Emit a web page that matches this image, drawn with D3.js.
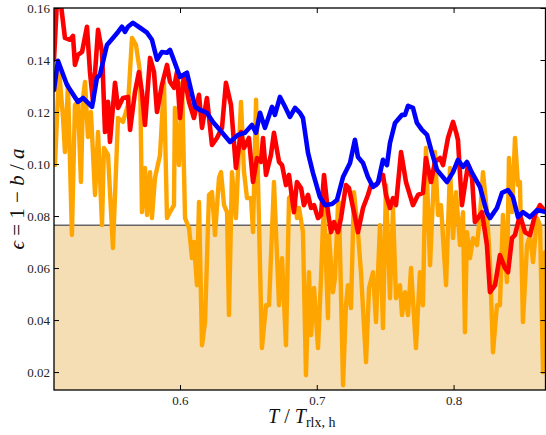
<!DOCTYPE html>
<html>
<head>
<meta charset="utf-8">
<script src="https://cdn.jsdelivr.net/npm/d3@7"></script>
<style>
  body { margin: 0; background: #fff; }
  svg text { font-family: "Liberation Serif", "Times New Roman", serif; }
</style>
</head>
<body>
<svg id="chart"></svg>
<script>
// values
const xTicks = [0.6, 0.7, 0.8]
const yTicks = [0.02, 0.04, 0.06, 0.08, 0.10, 0.12, 0.14, 0.16]
const threshold = 0.0765

const blueT = [0.5079,0.5108,0.5174,0.5254,0.5291,0.5357,0.5393,0.5415,0.5466,0.5510,
  0.5547,0.5576,0.5598,0.5620,0.5656,0.5708,0.5759,0.5795,0.5832,0.5868,
  0.5905,0.5927,0.5949,0.6000,0.6051,0.6110,0.6146,0.6197,0.6241,0.6292,
  0.6366,0.6424,0.6475,0.6526,0.6556,0.6585,0.6621,0.6673,0.6694,0.6731,
  0.6768,0.6804,0.6841,0.6877,0.6899,0.6936,0.6972,0.7023,0.7060,0.7111,
  0.7148,0.7192,0.7243,0.7279,0.7301,0.7338,0.7374,0.7411,0.7447,0.7484,
  0.7513,0.7535,0.7572,0.7623,0.7645,0.7667,0.7703,0.7732,0.7769,0.7806,
  0.7842,0.7879,0.7952,0.7996,0.8032,0.8069,0.8098,0.8135,0.8193,0.8244,
  0.8266,0.8317,0.8354,0.8398,0.8434,0.8471,0.8507,0.8558,0.8610,0.8675]
const blueEps = [0.1285,0.1397,0.1304,0.1239,0.1254,0.1220,0.1331,0.1343,0.1458,0.1485,
  0.1508,0.1528,0.1508,0.1528,0.1543,0.1524,0.1505,0.1478,0.1401,0.1431,
  0.1428,0.1439,0.1408,0.1335,0.1351,0.1220,0.1208,0.1197,0.1162,0.1131,
  0.1085,0.1112,0.1120,0.1150,0.1120,0.1197,0.1139,0.1220,0.1189,0.1258,
  0.1220,0.1181,0.1216,0.1197,0.1177,0.1043,0.0966,0.0873,0.0842,0.0846,
  0.0862,0.0950,0.1004,0.1093,0.1027,0.1004,0.0950,0.0912,0.0927,0.1016,
  0.0996,0.1081,0.1158,0.1189,0.1189,0.1224,0.1216,0.1158,0.1131,0.1112,
  0.1043,0.0977,0.0931,0.0969,0.1016,0.0989,0.1008,0.0966,0.0912,0.0812,
  0.0792,0.0831,0.0889,0.0900,0.0873,0.0796,0.0815,0.0796,0.0823,0.0815]

const redT = [0.5079,0.5101,0.5130,0.5159,0.5196,0.5218,0.5232,0.5254,0.5284,0.5320,
  0.5342,0.5364,0.5401,0.5430,0.5452,0.5474,0.5488,0.5525,0.5547,0.5583,
  0.5620,0.5635,0.5671,0.5700,0.5722,0.5744,0.5781,0.5810,0.5832,0.5868,
  0.5905,0.5927,0.5956,0.5978,0.6000,0.6029,0.6066,0.6102,0.6139,0.6161,
  0.6197,0.6234,0.6270,0.6307,0.6336,0.6373,0.6409,0.6446,0.6468,0.6504,
  0.6534,0.6563,0.6592,0.6607,0.6629,0.6665,0.6687,0.6724,0.6746,0.6775,
  0.6797,0.6833,0.6855,0.6885,0.6906,0.6936,0.6958,0.6980,0.7009,0.7031,
  0.7053,0.7082,0.7104,0.7126,0.7155,0.7177,0.7213,0.7235,0.7272,0.7301,
  0.7338,0.7374,0.7396,0.7433,0.7484,0.7506,0.7535,0.7557,0.7579,0.7616,
  0.7652,0.7681,0.7703,0.7740,0.7776,0.7798,0.7835,0.7864,0.7901,0.7923,
  0.7959,0.7996,0.8018,0.8032,0.8061,0.8083,0.8105,0.8135,0.8156,0.8178,
  0.8208,0.8244,0.8266,0.8303,0.8339,0.8376,0.8398,0.8427,0.8449,0.8485,
  0.8522,0.8559,0.8595,0.8632,0.8675]
const redEps = [0.1401,0.1632,0.1612,0.1485,0.1478,0.1493,0.1381,0.1420,0.1431,0.1528,
  0.1354,0.1239,0.1516,0.1431,0.1123,0.1239,0.1085,0.1312,0.1216,0.1254,
  0.1258,0.1131,0.1277,0.1354,0.1277,0.1150,0.1408,0.1354,0.1200,0.1304,
  0.1381,0.1316,0.1293,0.1354,0.1177,0.1343,0.1239,0.1177,0.1266,0.1139,
  0.1254,0.1073,0.1100,0.1139,0.1312,0.1227,0.0985,0.1123,0.1062,0.1100,
  0.0931,0.1023,0.1008,0.1100,0.0958,0.1035,0.1120,0.1008,0.0996,0.0919,
  0.0958,0.0815,0.0931,0.0908,0.0842,0.0881,0.0831,0.0842,0.0792,0.0804,
  0.0958,0.0815,0.0738,0.0777,0.0738,0.0792,0.0919,0.0908,0.0815,0.0738,
  0.0831,0.0881,0.0919,0.0919,0.0958,0.0881,0.0831,0.0869,0.0842,0.1046,
  0.0931,0.0881,0.0842,0.0881,0.0889,0.1023,0.0931,0.1008,0.1023,0.0996,
  0.1100,0.1162,0.1123,0.1093,0.0842,0.0919,0.0996,0.0946,0.0777,0.0792,
  0.0815,0.0688,0.0507,0.0534,0.0650,0.0600,0.0584,0.0715,0.0727,0.0804,
  0.0738,0.0727,0.0804,0.0842,0.0815]

const orangeT = [0.5086,0.5116,0.5145,0.5159,0.5181,0.5210,0.5232,0.5254,0.5276,0.5291,
  0.5306,0.5327,0.5349,0.5379,0.5401,0.5430,0.5444,0.5474,0.5510,0.5547,
  0.5583,0.5620,0.5649,0.5678,0.5708,0.5722,0.5744,0.5759,0.5781,0.5795,
  0.5817,0.5854,0.5883,0.5905,0.5927,0.5956,0.5963,0.5993,0.6015,0.6037,
  0.6066,0.6088,0.6102,0.6124,0.6139,0.6161,0.6183,0.6212,0.6234,0.6256,
  0.6285,0.6300,0.6322,0.6344,0.6358,0.6380,0.6409,0.6446,0.6468,0.6490,
  0.6519,0.6534,0.6556,0.6578,0.6599,0.6629,0.6651,0.6687,0.6724,0.6746,
  0.6775,0.6797,0.6833,0.6855,0.6870,0.6899,0.6921,0.6943,0.6958,0.6980,
  0.7009,0.7031,0.7045,0.7053,0.7082,0.7089,0.7118,0.7133,0.7155,0.7162,
  0.7192,0.7213,0.7228,0.7250,0.7272,0.7301,0.7323,0.7360,0.7382,0.7411,
  0.7433,0.7462,0.7484,0.7506,0.7535,0.7557,0.7579,0.7608,0.7623,0.7645,
  0.7667,0.7689,0.7725,0.7754,0.7776,0.7798,0.7828,0.7864,0.7886,0.7908,
  0.7945,0.7974,0.7996,0.8018,0.8047,0.8069,0.8083,0.8098,0.8120,0.8142,
  0.8171,0.8193,0.8215,0.8244,0.8266,0.8288,0.8317,0.8339,0.8361,0.8390,
  0.8405,0.8427,0.8449,0.8471,0.8485,0.8507,0.8537,0.8559,0.8581,0.8610,
  0.8632,0.8654,0.8668]
const orangeEps = [0.0996,0.1362,0.1177,0.1046,0.1304,0.0727,0.1227,0.1239,0.0931,0.1254,
  0.1316,0.1104,0.1200,0.0881,0.1123,0.0765,0.1062,0.1035,0.0677,0.1177,
  0.1162,0.1227,0.1485,0.1458,0.1354,0.0815,0.0985,0.0804,0.0969,0.0792,
  0.0946,0.1035,0.1312,0.0792,0.0815,0.0842,0.1216,0.0996,0.1312,0.0792,
  0.0754,0.0638,0.0700,0.0534,0.0854,0.0303,0.0392,0.0881,0.0892,0.0727,
  0.0946,0.0969,0.0842,0.0815,0.0419,0.0969,0.0792,0.1239,0.0969,0.0869,
  0.0869,0.0738,0.1247,0.0765,0.0292,0.0457,0.0457,0.0931,0.0457,0.0638,
  0.0303,0.0869,0.0892,0.0792,0.0831,0.0738,0.0188,0.0584,0.0342,0.0523,
  0.0292,0.0561,0.0765,0.0831,0.0407,0.0727,0.0507,0.0561,0.0842,0.0854,
  0.0149,0.0457,0.0534,0.0446,0.0892,0.0738,0.0584,0.0238,0.0523,0.0584,
  0.0392,0.0765,0.0369,0.0919,0.0484,0.0831,0.0484,0.0534,0.0419,0.0507,
  0.0419,0.0600,0.0292,0.0584,0.0457,0.1062,0.0611,0.1046,0.0804,0.0842,
  0.0534,0.0985,0.0715,0.0892,0.0688,0.0815,0.0353,0.0738,0.0638,0.0715,
  0.0688,0.0804,0.0969,0.0815,0.0623,0.0276,0.0457,0.0457,0.0804,0.0546,
  0.1023,0.0815,0.1100,0.0919,0.0931,0.0392,0.0688,0.0727,0.0623,0.0792,
  0.0765,0.0199,0.0661]

const width = 546
const height = 435
const plot = { left: 54, right: 545.5, top: 8, bottom: 390 }

const svg = d3.select("#chart")
  .attr("width", width)
  .attr("height", height)

const xScale = d3.scaleLinear()
  .domain([0.5079, 0.8672])
  .range([plot.left, plot.right])

const yScale = d3.scaleLinear()
  .domain([0.0131, 0.16])
  .range([plot.bottom, plot.top])

svg.append("clipPath")
  .attr("id", "plot-clip")
  .append("rect")
  .attr("x", plot.left)
  .attr("y", plot.top)
  .attr("width", plot.right - plot.left)
  .attr("height", plot.bottom - plot.top)

// shaded band under the threshold
svg.append("rect")
  .attr("x", plot.left)
  .attr("y", yScale(threshold))
  .attr("width", plot.right - plot.left)
  .attr("height", plot.bottom - yScale(threshold))
  .attr("fill", "#f5deb3")

svg.append("line")
  .attr("x1", plot.left)
  .attr("x2", plot.right)
  .attr("y1", yScale(threshold))
  .attr("y2", yScale(threshold))
  .attr("stroke", "#666")
  .attr("stroke-width", 1.5)

function toPoints(ts, eps) {
  return d3.range(Math.min(ts.length, eps.length)).map(i => [ts[i], eps[i]])
}

const line = d3.line()
  .x(d => xScale(d[0]))
  .y(d => yScale(d[1]))

const series = [
  { name: "orange", pts: toPoints(orangeT, orangeEps), color: "#ffa500", w: 4.4 },
  { name: "red", pts: toPoints(redT, redEps), color: "#ff0000", w: 4.6 },
  { name: "blue", pts: toPoints(blueT, blueEps), color: "#0000ff", w: 4.6 }
]

svg.append("g")
  .attr("clip-path", "url(#plot-clip)")
  .selectAll("path")
  .data(series)
  .enter()
  .append("path")
  .attr("class", d => d.name)
  .attr("d", d => line(d.pts))
  .attr("fill", "none")
  .attr("stroke", d => d.color)
  .attr("stroke-width", d => d.w)
  .attr("stroke-linejoin", "round")
  .attr("stroke-linecap", "round")

// axes, ticks pointing inward on all four sides
function styleAxis(g) {
  g.select(".domain").remove()
  g.selectAll(".tick line").attr("stroke", "#000").attr("stroke-width", 1)
  g.selectAll(".tick text").attr("font-size", 13).attr("fill", "#222")
    .style("font-family", "'Liberation Serif', serif")
}

svg.append("g")
  .attr("transform", `translate(0,${plot.bottom})`)
  .call(d3.axisBottom(xScale).tickValues(xTicks).tickSize(-5).tickPadding(6)
    .tickFormat(d3.format(".1f")))
  .call(styleAxis)

svg.append("g")
  .attr("transform", `translate(0,${plot.top})`)
  .call(d3.axisTop(xScale).tickValues(xTicks).tickSize(-5).tickFormat(""))
  .call(styleAxis)

svg.append("g")
  .attr("transform", `translate(${plot.left},0)`)
  .call(d3.axisLeft(yScale).tickValues(yTicks).tickSize(-5).tickPadding(4)
    .tickFormat(d3.format(".2f")))
  .call(styleAxis)

svg.append("g")
  .attr("transform", `translate(${plot.right},0)`)
  .call(d3.axisRight(yScale).tickValues(yTicks).tickSize(-5).tickFormat(""))
  .call(styleAxis)

// frame
svg.append("rect")
  .attr("x", plot.left)
  .attr("y", plot.top)
  .attr("width", plot.right - plot.left)
  .attr("height", plot.bottom - plot.top)
  .attr("fill", "none")
  .attr("stroke", "#000")
  .attr("stroke-width", 1.3)

// x label: T / T_rlx,h
const xLab = svg.append("text")
  .attr("x", (plot.left + plot.right) / 2 + 2)
  .attr("y", 423)
  .attr("text-anchor", "middle")
  .attr("font-size", 20)
  .attr("fill", "#111")
xLab.append("tspan").attr("font-style", "italic").text("T")
xLab.append("tspan").text(" / ")
xLab.append("tspan").attr("font-style", "italic").text("T")
xLab.append("tspan").attr("font-size", 14).attr("dy", 4).text("rlx, h")

// y label: epsilon = 1 - b/a
const yLab = svg.append("text")
  .attr("transform", `translate(24,${(plot.top + plot.bottom) / 2}) rotate(-90)`)
  .attr("text-anchor", "middle")
  .attr("font-size", 21)
  .attr("fill", "#111")
yLab.append("tspan").attr("font-style", "italic").text("ϵ")
yLab.append("tspan").text(" = 1 − ")
yLab.append("tspan").attr("font-style", "italic").text("b")
yLab.append("tspan").text(" / ")
yLab.append("tspan").attr("font-style", "italic").text("a")
</script>
</body>
</html>
